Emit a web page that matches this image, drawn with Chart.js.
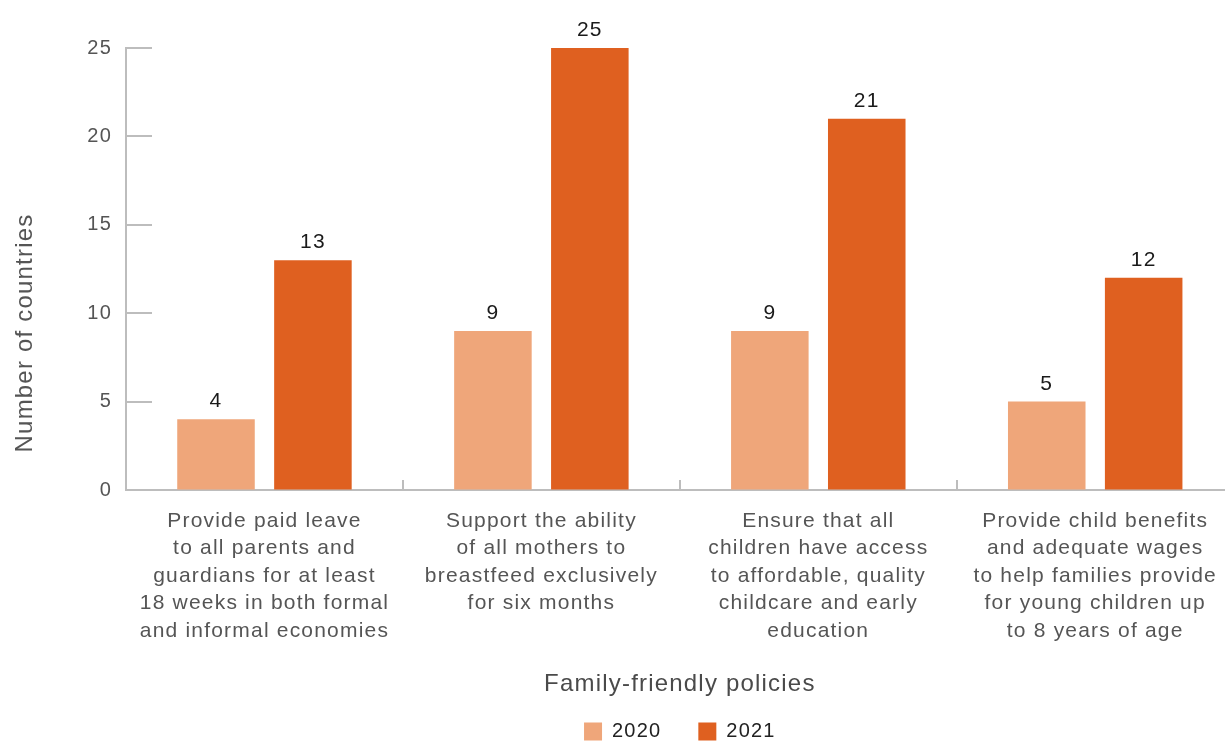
<!DOCTYPE html>
<html>
<head>
<meta charset="utf-8">
<script src="https://cdn.jsdelivr.net/npm/chart.js@4/dist/chart.umd.min.js"></script>
<style>
  html, body { margin: 0; padding: 0; background: #fff; overflow: hidden; }
  #wrap { width: 1234px; height: 742px; }
</style>
</head>
<body>
<div id="wrap"><canvas id="politicas" width="1234" height="742"></canvas></div>
<script>
// Dados do gráfico
const categorias = [
  ['Provide paid leave', 'to all parents and', 'guardians for at least', '18 weeks in both formal', 'and informal economies'],
  ['Support the ability', 'of all mothers to', 'breastfeed exclusively', 'for six months'],
  ['Ensure that all', 'children have access', 'to affordable, quality', 'childcare and early', 'education'],
  ['Provide child benefits', 'and adequate wages', 'to help families provide', 'for young children up', 'to 8 years of age']
];
const valores2020 = [4, 9, 9, 5];
const valores2021 = [13, 25, 21, 12];
const ticksY = [0, 5, 10, 15, 20, 25];
const tituloY = 'Number of countries';

const fonte = '"Liberation Sans", Arial, sans-serif';
const corEixo = '#bdbdbd';
const espacamento = '1.2px'; // espaçamento entre letras do original

// Plugin: espaçamento de letras, título do eixo y, rótulos de valor e marcas de escala
const extras = {
  id: 'extras',
  beforeLayout(chart) { chart.ctx.letterSpacing = espacamento; },
  beforeDraw(chart) { chart.ctx.letterSpacing = espacamento; },
  afterDatasetsDraw(chart) {
    const { ctx, chartArea, scales } = chart;
    ctx.save();
    // marcas do eixo y (para dentro)
    ctx.strokeStyle = corEixo;
    ctx.lineWidth = 2;
    ticksY.forEach(v => {
      const y = Math.round(scales.y.getPixelForValue(v));
      ctx.beginPath();
      ctx.moveTo(chartArea.left, y);
      ctx.lineTo(chartArea.left + 26, y);
      ctx.stroke();
    });
    // marcas entre categorias no eixo x
    const larg = (chartArea.right - chartArea.left) / categorias.length;
    for (let i = 1; i < categorias.length; i++) {
      const x = Math.round(chartArea.left + larg * i);
      ctx.beginPath();
      ctx.moveTo(x, chartArea.bottom);
      ctx.lineTo(x, chartArea.bottom - 10);
      ctx.stroke();
    }
    // valores
    ctx.fillStyle = '#1a1a1a';
    ctx.font = '21px ' + fonte;
    ctx.textAlign = 'center';
    ctx.textBaseline = 'alphabetic';
    chart.data.datasets.forEach((ds, i) => {
      chart.getDatasetMeta(i).data.forEach((bar, j) => {
        ctx.fillText(ds.data[j], bar.x, bar.y - 12);
      });
    });
    // título do eixo y (um pouco abaixo do centro, como no original)
    ctx.translate(25, 333);
    ctx.rotate(-Math.PI / 2);
    ctx.fillStyle = '#555';
    ctx.font = '24px ' + fonte;
    ctx.textBaseline = 'middle';
    ctx.fillText(tituloY, 0, 0);
    ctx.restore();
  }
};

const grafico = new Chart(document.getElementById('politicas'), {
  type: 'bar',
  data: {
    labels: categorias,
    datasets: [
      { label: '2020', data: valores2020, backgroundColor: '#efa67a', barPercentage: 0.8, categoryPercentage: 0.7 },
      { label: '2021', data: valores2021, backgroundColor: '#df6020', barPercentage: 0.8, categoryPercentage: 0.7 }
    ]
  },
  options: {
    responsive: false,
    animation: false,
    layout: { padding: { top: 48, left: 0, right: 0, bottom: 0 } },
    plugins: {
      tooltip: { enabled: false },
      legend: {
        position: 'bottom',
        fullSize: false,
        maxHeight: 57.5,
        labels: {
          boxWidth: 18, boxHeight: 18, padding: 37,
          color: '#222',
          font: { family: fonte, size: 20 }
        }
      }
    },
    scales: {
      x: {
        afterFit: axis => { axis.height = 194.5; },
        grid: { display: false, drawTicks: false },
        border: { color: corEixo, width: 2 },
        ticks: { color: '#555', padding: 17, font: { family: fonte, size: 21, lineHeight: 27.5 / 21 }, maxRotation: 0, autoSkip: false },
        title: { display: true, text: 'Family-friendly policies', color: '#4a4a4a', font: { family: fonte, size: 24 }, padding: { top: 0, bottom: -14 } }
      },
      y: {
        min: 0, max: 25,
        afterBuildTicks: axis => { axis.ticks = ticksY.map(v => ({ value: v })); },
        afterFit: axis => { axis.width = 126; },
        grid: { drawOnChartArea: false, drawTicks: false },
        border: { color: corEixo, width: 2 },
        ticks: { color: '#555', padding: 14, font: { family: fonte, size: 20 } }
      }
    }
  },
  plugins: [extras]
});
</script>
</body>
</html>
